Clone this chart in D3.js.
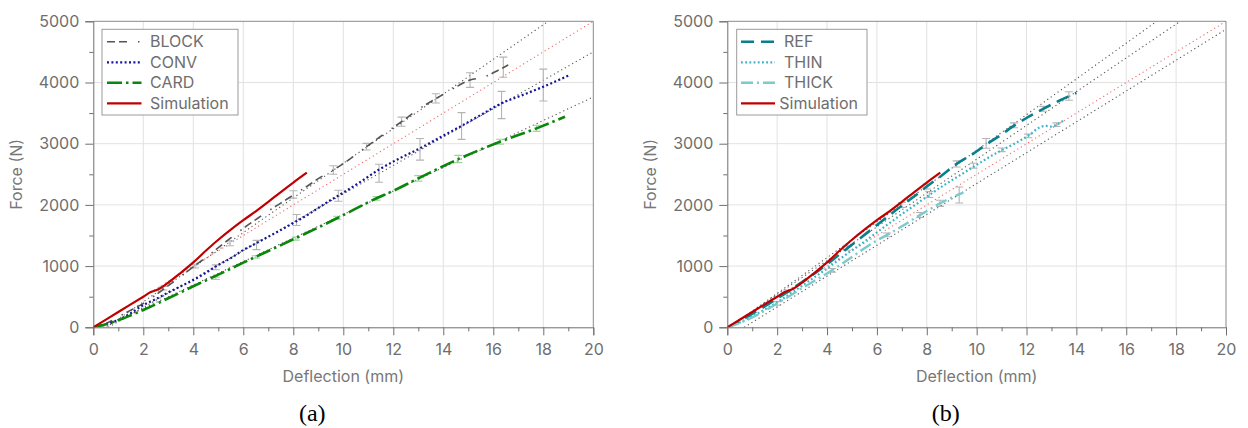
<!DOCTYPE html>
<html><head><meta charset="utf-8">
<script src="https://cdn.jsdelivr.net/npm/d3@7"></script>
<style>
body{margin:0;background:#fff}
svg{display:block}
text{font-family:Inter,"Noto Sans",sans-serif}
</style>
</head><body>
<svg id="c" width="1248" height="428"></svg>
<script>
// ---------- tick labels ----------
const xTicks = [0,2,4,6,8,10,12,14,16,18,20];
const xMinor = [1,3,5,7,9,11,13,15,17,19];
const yTicks = [0,1000,2000,3000,4000,5000];
const yMinor = [500,1500,2500,3500,4500];
const captions = ["(a)", "(b)"];
const xTitle = "Deflection (mm)";
const yTitle = "Force (N)";

// ---------- panel (a) series [deflection mm, force N] ----------
const legendA = ["BLOCK","CONV","CARD","Simulation"];
const simulation = [[0,0],[1,250],[2,500],[2.3,575],[2.6,620],[3,730],[3.5,890],[4,1060],[4.5,1250],[5,1430],[5.5,1595],[6,1750],[6.5,1895],[7,2050],[7.5,2210],[8,2365],[8.54,2526]];
const block = [[0,0],[0.5,60],[1,170],[1.5,280],[2,392],[2.5,530],[3,680],[3.5,830],[4,990],[4.5,1140],[5,1300],[5.5,1460],[6,1617],[6.5,1760],[7,1900],[7.5,2030],[8,2162],[8.5,2290],[9,2430],[9.6,2570],[10.3,2760],[10.93,2951],[11.6,3150],[12.33,3360],[13,3560],[13.73,3742],[14.4,3900],[15.07,4041],[15.6,4085],[16.27,4216],[16.6,4286]];
const conv = [[0,0],[0.5,50],[1,120],[1.5,230],[2,364],[2.5,460],[3,570],[3.5,670],[4,773],[4.5,890],[5,1020],[5.5,1130],[6,1263],[6.5,1370],[7,1480],[7.5,1590],[8,1704],[8.5,1820],[9,1950],[9.5,2080],[10,2200],[10.7,2380],[11.4,2570],[12.2,2750],[13.07,2925],[13.9,3110],[14.67,3278],[15.5,3470],[16.33,3660],[17.2,3800],[18,3931],[18.5,4020],[19.07,4123]];
const card = [[0,0],[0.5,50],[1,115],[1.5,195],[2,283],[3,475],[4,670],[5,860],[6,1056],[7,1247],[8,1438],[9,1630],[9.87,1807],[11.33,2108],[12.07,2243],[13,2434],[14.67,2761],[16.27,3033],[17.73,3251],[18.87,3441]];
// error bars [x, mean, half-range]
const blockErr = [[2.8,640,30],[4.07,1000,30],[5.47,1372,40],[8.0,2170,60],[9.6,2570,70],[10.93,2951,55],[12.33,3360,75],[13.7,3740,75],[15.07,4040,120],[16.4,4250,165]];
const convErr = [[4.9,980,40],[6.53,1345,76],[8.13,1753,90],[9.8,2150,90],[11.43,2516,147],[13.07,2908,177],[14.73,3289,218],[16.33,3632,223],[18.0,3958,261]];
const cardErr = [[4.9,800,20],[6.5,1150,20],[8.1,1450,25],[9.75,1790,25],[11.33,2108,30],[13.0,2434,45],[14.6,2750,60],[16.27,3033,40],[17.73,3251,50]];
// linear fits [slope N/mm, x-intercept mm]
const fitsA = [[283,0.53],[232,0.6],[192,0.4],[250,0]];

// ---------- panel (b) series ----------
const legendB = ["REF","THIN","THICK","Simulation"];
const ref = [[0,0],[0.5,100],[1,220],[1.5,340],[2,470],[2.5,600],[3,740],[3.5,880],[4,1030],[4.5,1190],[5,1350],[5.5,1510],[6,1670],[6.5,1830],[7,1990],[7.5,2140],[8,2300],[8.6,2480],[9.2,2670],[9.8,2820],[10.4,2990],[11.0,3150],[11.41,3270],[12,3420],[12.67,3570],[13.35,3710],[14.0,3830]];
const thin = [[0,0],[0.5,80],[1,180],[1.5,290],[2,410],[2.5,540],[3,680],[3.5,820],[4,960],[4.5,1110],[5,1260],[5.5,1400],[6,1550],[6.5,1700],[7,1850],[7.5,1990],[8.13,2170],[8.8,2350],[9.47,2520],[10.14,2690],[10.8,2850],[11.47,2990],[12.14,3150],[12.5,3260],[12.75,3290],[13.0,3280],[13.2,3310],[13.48,3376]];
const thick = [[0,0],[0.5,70],[1,160],[1.5,270],[2,390],[2.5,510],[3,640],[3.5,760],[4,880],[4.5,1010],[5,1150],[5.5,1290],[6,1420],[6.5,1530],[7,1650],[7.73,1835],[8.13,1930],[8.53,2026],[9.0,2120],[9.47,2200]];
const simulationB = simulation;
const refErr = [[2.4,590,20],[4.8,1300,40],[7.0,2000,40],[8.0,2300,40],[9.2,2670,50],[10.38,3006,80],[11.5,3300,40],[12.67,3570,40],[13.7,3780,70]];
const thinErr = [[8.1,2170,50],[9.87,2641,40],[11.0,2900,30],[12.07,3126,30],[13.2,3310,30]];
const thickErr = [[2.0,390,30],[4.2,930,30],[6.4,1510,30],[7.73,1835,40],[8.53,2026,50],[9.3,2162,130]];
const fitsB = [[292,0.1],[276,0.05],[250,0],[252,0.68]];

// ---------- styles ----------
const styles = {
  BLOCK:{c:"#555555",w:1.6,d:"8,4,8,11,1.5,4"},
  CONV:{c:"#15159a",w:2.2,d:"2,2.4"},
  CARD:{c:"#0a870a",w:2.6,d:"15,4,2.5,4"},
  Simulation:{c:"#c00000",w:2.2,d:null},
  REF:{c:"#0a7f8c",w:2.6,d:"13,7"},
  THIN:{c:"#3cb4c8",w:2.2,d:"1.8,2.4"},
  THICK:{c:"#7ccaca",w:2.4,d:"12,4,2,4"}
};

const panels = [
  {L:93.3,R:593.3, caption:captions[0], legend:legendA,
   series:{BLOCK:block,CONV:conv,CARD:card,Simulation:simulation},
   errs:[[blockErr,"#b4b4b4"],[convErr,"#b4b4b4"],[cardErr,"#9fd29f"]],
   fits:fitsA, fitColors:["#555","#555","#555","#f06a6a"],
   lg:{x:102,w:136,sx:107,ex:141.5,tx:[150,150,150,150]}},
  {L:727.3,R:1226, caption:captions[1], legend:legendB,
   series:{REF:ref,THIN:thin,THICK:thick,Simulation:simulationB},
   errs:[[refErr,"#b4b4b4"],[thinErr,"#b4b4b4"],[thickErr,"#b4b4b4"]],
   fits:fitsB, fitColors:["#555","#555","#f06a6a","#555"],
   lg:{x:736.7,w:130.3,sx:741,ex:775,tx:[784,784,784,779.3]}}
];
const T = 21.3, B = 327.3;
const svg = d3.select("#c");

panels.forEach((p,pi)=>{
  const x = d3.scaleLinear([0,20],[p.L,p.R]);
  const y = d3.scaleLinear([0,5000],[B,T]);
  const g = svg.append("g");
  const clipId = "clip"+pi;
  svg.append("clipPath").attr("id",clipId).append("rect")
     .attr("x",p.L).attr("y",T).attr("width",p.R-p.L).attr("height",B-T);

  // grid
  g.append("g").selectAll("line").data(xTicks.slice(1,-1)).join("line")
    .attr("x1",d=>x(d)).attr("x2",d=>x(d)).attr("y1",T).attr("y2",B)
    .attr("stroke","#e2e2e2").attr("stroke-width",1);
  g.append("g").selectAll("line").data(yTicks.slice(1,-1)).join("line")
    .attr("y1",d=>y(d)).attr("y2",d=>y(d)).attr("x1",p.L).attr("x2",p.R)
    .attr("stroke","#e2e2e2").attr("stroke-width",1);

  const plot = g.append("g").attr("clip-path",`url(#${clipId})`);
  // fits
  p.fits.forEach((f,i)=>{
    const [s,x0] = f;
    const xs = Math.max(0,x0);
    const xe = Math.min(20, x0 + 5000/s);
    plot.append("line")
      .attr("x1",x(xs)).attr("y1",y(s*(xs-x0)))
      .attr("x2",x(xe)).attr("y2",y(s*(xe-x0)))
      .attr("stroke",p.fitColors[i]).attr("stroke-width",1.1)
      .attr("stroke-dasharray","1.2,3");
  });
  // error bars
  p.errs.forEach(([arr,col])=>{
    const eg = plot.append("g").attr("stroke",col).attr("stroke-width",1.1);
    arr.forEach(([xv,m,e])=>{
      eg.append("line").attr("x1",x(xv)).attr("x2",x(xv)).attr("y1",y(m-e)).attr("y2",y(m+e));
      [m-e,m+e].forEach(v=>eg.append("line").attr("x1",x(xv)-4).attr("x2",x(xv)+4).attr("y1",y(v)).attr("y2",y(v)));
    });
  });
  // series
  const line = d3.line().x(d=>x(d[0])).y(d=>y(d[1])).curve(d3.curveMonotoneX);
  Object.entries(p.series).forEach(([name,data])=>{
    const st = styles[name];
    plot.append("path").datum(data).attr("d",line)
      .attr("fill","none").attr("stroke",st.c).attr("stroke-width",st.w)
      .attr("stroke-dasharray",st.d).attr("stroke-linejoin","round");
  });

  // frame top/right
  g.append("line").attr("x1",p.L).attr("x2",p.R).attr("y1",T).attr("y2",T).attr("stroke","#8a8a8a");
  g.append("line").attr("x1",p.R).attr("x2",p.R).attr("y1",T).attr("y2",B).attr("stroke","#8a8a8a");

  // axes
  g.append("g").attr("transform",`translate(0,${B})`)
    .call(d3.axisBottom(x).tickValues(xTicks).tickSize(8).tickPadding(8).tickFormat(d3.format("d")));
  g.append("g").attr("transform",`translate(0,${B})`)
    .call(d3.axisBottom(x).tickValues(xMinor).tickSize(4).tickFormat("")).select(".domain").remove();
  g.append("g").attr("transform",`translate(${p.L},0)`)
    .call(d3.axisLeft(y).tickValues(yTicks).tickSize(8).tickPadding(6).tickFormat(d3.format("d")));
  g.append("g").attr("transform",`translate(${p.L},0)`)
    .call(d3.axisLeft(y).tickValues(yMinor).tickSize(4).tickFormat("")).select(".domain").remove();
  g.selectAll(".domain,.tick line").attr("stroke","#6e6e6e");
  g.selectAll(".tick text").attr("fill","#6e6e6e").style("font-size","16px").style("font-family","Inter,'Noto Sans',sans-serif");

  // titles
  g.append("text").attr("x",(p.L+p.R)/2).attr("y",382).attr("text-anchor","middle")
    .attr("fill","#777").style("font-size","16px").text(xTitle);
  g.append("text").attr("transform",`translate(${p.L-71.5},${(T+B)/2}) rotate(-90)`)
    .attr("text-anchor","middle").attr("fill","#777").style("font-size","16px").text(yTitle);
  g.append("text").attr("x",(p.L+p.R)/2-31).attr("y",421).attr("text-anchor","middle")
    .attr("fill","#000").style("font-family","'Liberation Serif','Times New Roman',serif").style("font-size","24px").text(p.caption);

  // legend
  const lg = p.lg;
  g.append("rect").attr("x",lg.x).attr("y",29.3).attr("width",lg.w).attr("height",85.7)
    .attr("fill","#fff").attr("stroke","#9a9a9a").attr("stroke-width",1);
  const rowsY = [41.7,62.3,82.7,103.3];
  p.legend.forEach((name,i)=>{
    const st = styles[name];
    g.append("line").attr("x1",lg.sx).attr("x2",lg.ex).attr("y1",rowsY[i]).attr("y2",rowsY[i])
      .attr("stroke",st.c).attr("stroke-width",st.w).attr("stroke-dasharray",st.d);
    g.append("text").attr("x",lg.tx[i]).attr("y",rowsY[i]).attr("dy","0.36em")
      .attr("fill","#6e6e6e").style("font-size","16px").text(name);
  });
});
</script>
</body></html>
